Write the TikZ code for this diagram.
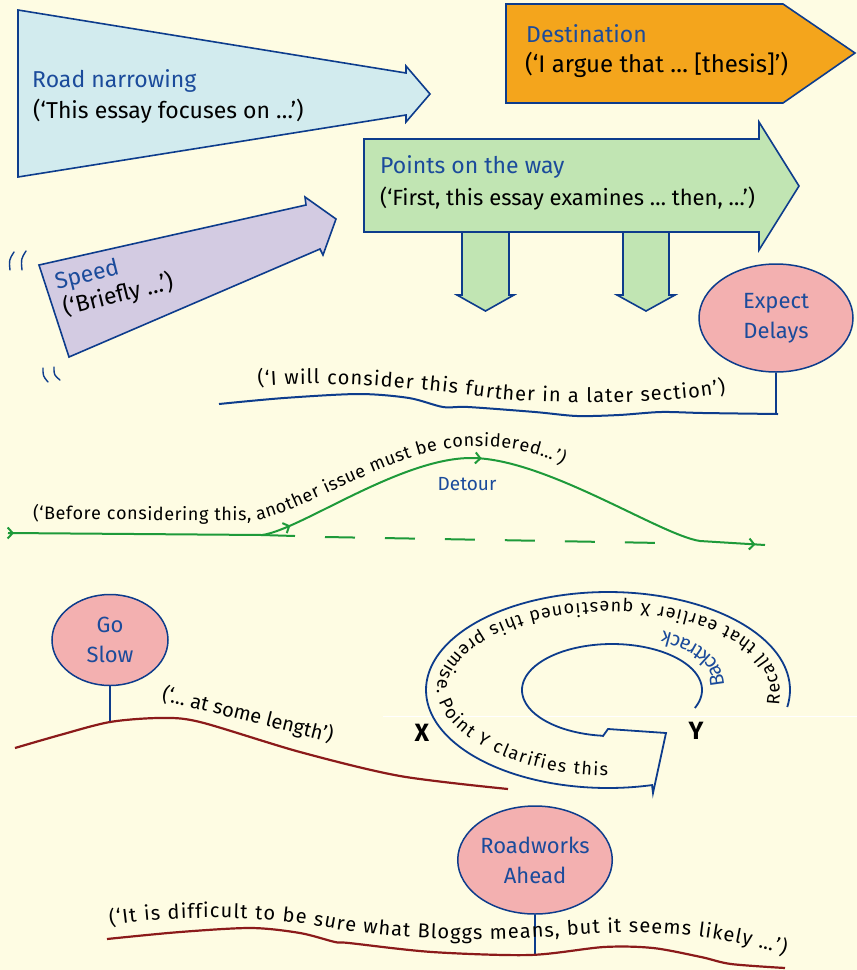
\documentclass[tikz,border=0pt]{standalone}
\usepackage{fontspec}
\setmainfont{Fira Sans}
\usetikzlibrary{shapes.geometric,decorations.text,decorations.markings,arrows.meta}
\definecolor{bg}{HTML}{FEFCE3}
\definecolor{lineblue}{HTML}{0D3C8C}
\definecolor{titleblue}{HTML}{1B4B9B}
\definecolor{rnfill}{HTML}{D2EBEE}
\definecolor{destfill}{HTML}{F4A51C}
\definecolor{ptfill}{HTML}{C1E5B3}
\definecolor{spfill}{HTML}{D3CBE2}
\definecolor{signpink}{HTML}{F3B0B0}
\definecolor{roadred}{HTML}{8B1A1A}
\definecolor{detgreen}{HTML}{1E9A3A}
\newcommand\curvefont{\fontsize{20}{24}\selectfont}
\newcommand\detfont{\fontsize{18}{22}\selectfont}
\newcommand\spiralfont{\fontsize{18}{20}\selectfont}
\newcommand\backfont{\fontsize{20}{22}\selectfont}
\tikzset{gtip/.tip={Straight Barb[length=5pt,width=11pt]}}
\begin{document}
\begin{tikzpicture}[x=1pt,y=-1pt,
 outline/.style={draw=lineblue, line width=1.6pt, line join=miter},
 ttl/.style={text=titleblue, font=\fontsize{23}{27}\selectfont, inner sep=0pt, anchor=base west},
 bdy/.style={text=black, font=\fontsize{23}{27}\selectfont, inner sep=0pt, anchor=base west},
 sign/.style={ellipse, draw=lineblue, fill=signpink, line width=1.5pt, inner sep=0pt, align=center, text=titleblue, font=\fontsize{22}{30}\selectfont},
 pole/.style={draw=lineblue, line width=1.6pt},
 blueroad/.style={draw=lineblue, line width=2pt},
 redroad/.style={draw=roadred, line width=2.2pt},
 gline/.style={draw=detgreen, line width=2pt},
 motion/.style={draw=lineblue, line width=1.4pt, line cap=round},
 letter/.style={font=\bfseries\fontsize{25}{25}\selectfont, inner sep=0pt}
]
\fill[bg] (0,0) rectangle (857,970);
\useasboundingbox (0,0) rectangle (857,970);

% Road narrowing
\draw[outline, fill=rnfill] (18,10) -- (406,73) -- (406,66) -- (430,94) -- (406,122) -- (406,115) -- (18,177) -- cycle;
\node[ttl] (rn-title) at (32,87) {Road narrowing};
\node[bdy] (rn-text) at (33,118) {(‘This essay focuses on …’)};

% Destination
\draw[outline, fill=destfill] (506,4) -- (783,4) -- (855,53) -- (783,103) -- (506,103) -- cycle;
\node[ttl] (dest-title) at (526,42) {Destination};
\node[bdy, font=\fontsize{24}{27}\selectfont] (dest-text) at (525,72) {(‘I argue that … [thesis]’)};

% Points on the way
\draw[outline, fill=ptfill] (462,232) -- (462,295) -- (457,295) -- (485.5,311) -- (514,295) -- (509,295) -- (509,225);
\draw[outline, fill=ptfill] (623,232) -- (623,295) -- (617,295) -- (646,311) -- (675,295) -- (669,295) -- (669,225);
\draw[outline, fill=ptfill] (364,139) -- (759,139) -- (759,122) -- (799,186) -- (759,250) -- (759,232) -- (364,232) -- cycle;
\node[ttl] (pts-title) at (380,173) {Points on the way};
\node[bdy, font=\fontsize{22}{27}\selectfont] (pts-text) at (380,205) {(‘First, this essay examines … then, …’)};

% Speed
\draw[outline, fill=spfill] (39,265) -- (306,205) -- (305,197) -- (336,219) -- (323,255) -- (320,249) -- (69,357) -- cycle;
\node[ttl, rotate=14] (sp-title) at (57,290) {Speed};
\node[bdy, rotate=14] (sp-text) at (65,316) {(‘Briefly …’)};
\draw[motion] (14,252) .. controls (9,260) .. (10,270);
\draw[motion] (26,251) .. controls (21,259) .. (22,270);
\draw[motion] (43,368) .. controls (43,376) .. (48,382);
\draw[motion] (54,367) .. controls (54,375) .. (60,380);

% Expect delays
\node[sign, minimum width=154pt, minimum height=108pt] (ed) at (776,318) {Expect\\Delays};
\coordinate (ed-base) at (776,414);
\draw[pole] (ed.south) -- (ed-base);
\draw[blueroad] plot[smooth] coordinates {(219,404) (284,398) (359,394) (409,398) (443,407) (468,407) (535,412) (577,416) (619,415) (661,412) (703,413) (778,414)};
\path[decorate, decoration={text along path, text={|\curvefont|(‘I will consider this further in a later section’)}, text align={fit to path}}]
  (258,386) .. controls (330,380) and (420,388) .. (500,399) .. controls (580,406) and (680,402) .. (726,393);

% Detour
\draw[gline, postaction={decorate, decoration={markings,
   mark=at position 6pt with {\arrow{gtip}},
   mark=at position 284pt with {\arrow{gtip}},
   mark=at position 489pt with {\arrow{gtip}},
   mark=at position 779pt with {\arrow{gtip}}}}]
  (8,533) -- (262,535) .. controls (300,530) and (400,458) .. (471,458)
  .. controls (545,458) and (660,535) .. (700,541) -- (765,545);
\draw[gline] (262,535) -- (295,536);
\draw[gline, dash pattern=on 30pt off 30pt] (325,537) -- (662,543);
\node[text=titleblue, font=\fontsize{19}{22}\selectfont] (detour) at (467,484) {Detour};
\path[decorate, decoration={text along path, text={|\detfont|(‘Before considering this, another issue must be considered…’)}, text align={fit to path}}]
  (33,519) -- (250,521) .. controls (290,520) and (390,452) .. (460,447) .. controls (510,444) and (545,455) .. (562,465);

% Go slow
\node[sign, minimum width=116pt, minimum height=91pt] (gs) at (110,640) {Go\\Slow};
\coordinate (gs-base) at (110,721);
\draw[pole] (gs.south) -- (gs-base);
\draw[redroad] plot[smooth] coordinates {(15,748) (60,735) (110,722) (160,718) (200,722) (300,752) (400,776) (508,789)};
\node[bdy, font=\fontsize{20}{24}\selectfont, rotate=-14] (gs-text) at (161,700) {(‘… at some length’)};

% Backtrack
\draw[white, line width=1pt] (383,716) -- (857,716);
\draw[outline, line width=1.8pt]
  plot[domain=0:294, samples=120, smooth] ({608+182*cos(10-\x)},{690+98*sin(10-\x)})
  -- (653,793) -- (666,733) -- (608,729) -- (603,736)
  -- plot[domain=96:383, samples=100, smooth] ({612+90*cos(\x)},{690+46*sin(\x)});
\path[decorate, decoration={text along path, text={|\spiralfont|Recall that earlier X questioned this premise. Point Y clarifies this}, text align={fit to path}}]
  (779,705) .. controls (790,640) and (700,602) .. (608,602)
  .. controls (500,602) and (437,650) .. (437,689)
  .. controls (437,735) and (520,776) .. (608,776);
\path[decorate, decoration={text along path, text={|\backfont\color{titleblue}|Backtrack}}]
  (724,686) .. controls (724,650) and (680,626) .. (612,626) .. controls (560,626) and (520,645) .. (505,670);
\node[letter] (X) at (422,733) {X};
\node[letter] (Y) at (696,731) {Y};

% Roadworks ahead
\node[sign, minimum width=154pt, minimum height=108pt] (rw) at (535,860) {Roadworks\\Ahead};
\coordinate (rw-base) at (535,955);
\draw[pole] (rw.south) -- (rw-base);
\draw[redroad] plot[smooth] coordinates {(107,939) (180,932) (251,928) (300,933) (335,942) (349,943) (432,952) (530,955) (604,947) (653,948) (701,957) (731,964) (785,968)};
\path[decorate, decoration={text along path, text={|\curvefont|(‘It is difficult to be sure what Bloggs means, but it seems likely …’)}, text align={fit to path}}]
  (110,925) .. controls (180,915) and (260,915) .. (330,928) .. controls (400,940) and (480,942) .. (560,936) .. controls (630,930) and (700,930) .. (785,955);
\end{tikzpicture}
\end{document}
